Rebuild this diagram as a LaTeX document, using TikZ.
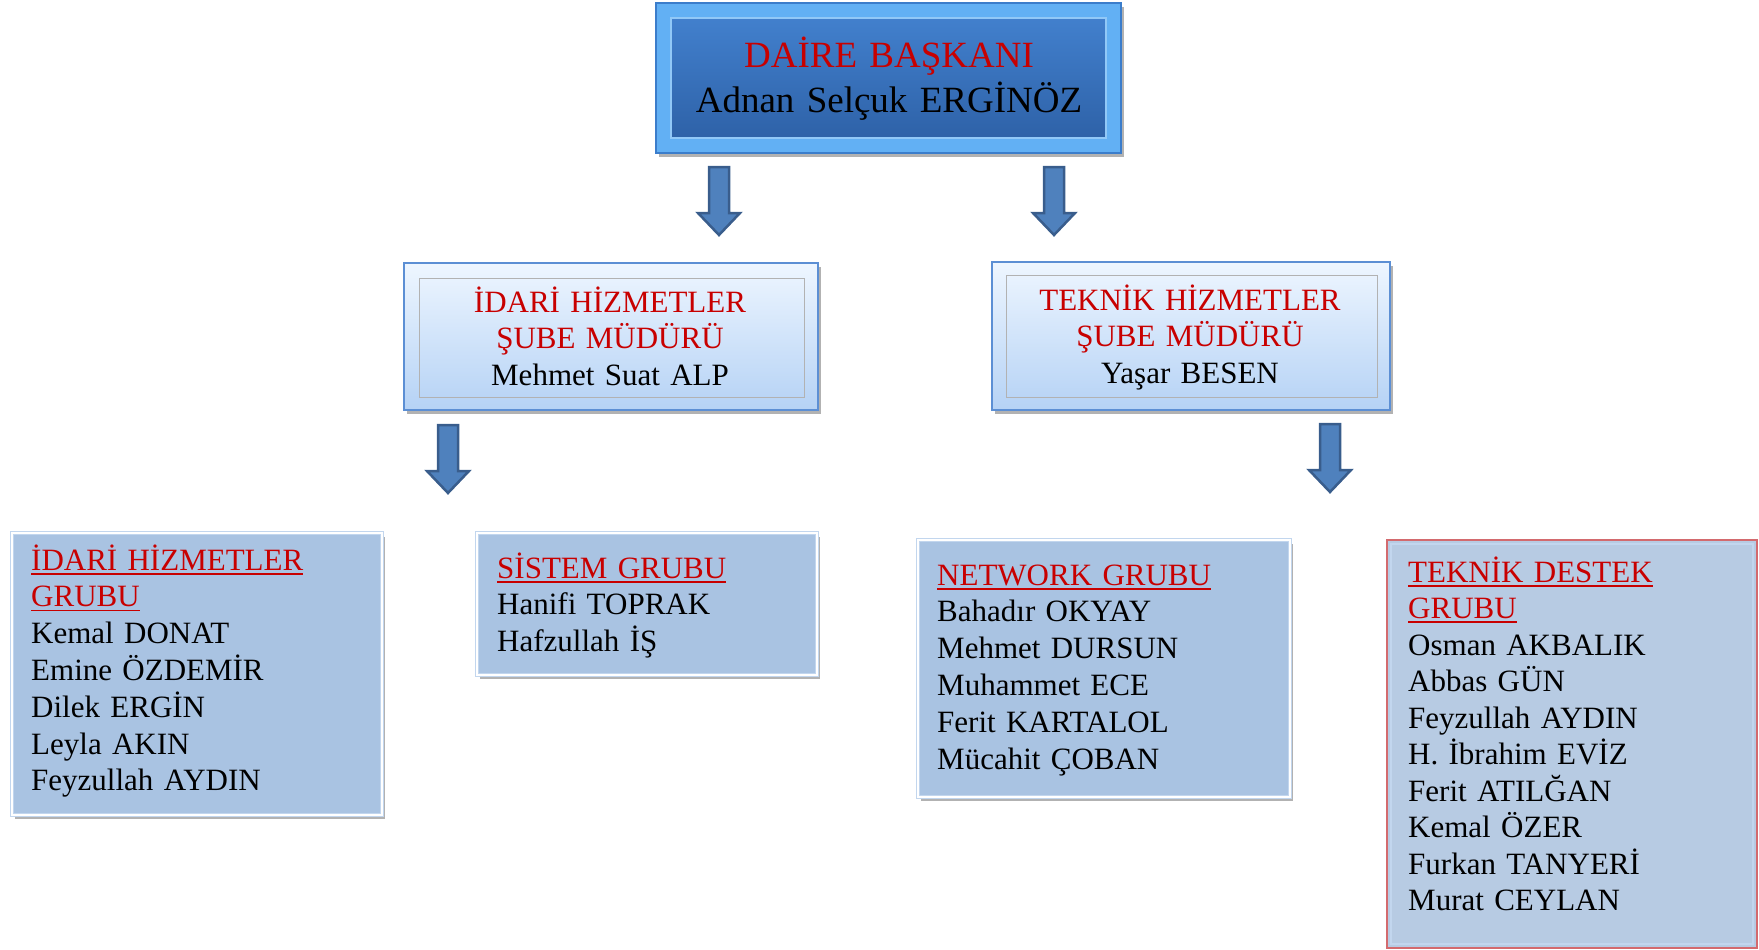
\documentclass[tikz,border=0pt]{standalone}
\usepackage{fontspec}
\setmainfont{Liberation Serif}
\usetikzlibrary{positioning,shadows}

\definecolor{headred}{RGB}{200,0,0}
\definecolor{framelt}{RGB}{98,176,244}
\definecolor{frameln}{RGB}{59,125,203}
\definecolor{chieftop}{RGB}{66,128,205}
\definecolor{chiefbot}{RGB}{46,98,168}
\definecolor{midline}{RGB}{92,143,212}
\definecolor{midtop}{RGB}{238,246,255}
\definecolor{midbot}{RGB}{181,210,245}
\definecolor{grpfill}{RGB}{169,195,226}
\definecolor{grpline}{RGB}{194,214,238}
\definecolor{supfill}{RGB}{183,203,227}
\definecolor{supred}{RGB}{211,106,110}
\definecolor{arrfill}{RGB}{79,129,189}
\definecolor{arrline}{RGB}{57,93,140}

% underlined group heading
\newcommand\grpul[1]{\leavevmode\setbox0=\hbox{#1}\rlap{\rule[-4.5pt]{\wd0}{1.8pt}}\box0}

\begin{document}
\begin{tikzpicture}[
  x=1pt,y=-1pt,
  shd/.style={drop shadow={shadow xshift=3pt,shadow yshift=-4pt,opacity=0.3,fill=black}},
  box/.style={rectangle,inner sep=0pt,outer sep=0pt,anchor=north west},
  chiefbox/.style={box,fill=framelt,draw=frameln,line width=1.5pt,shd},
  chiefin/.style={rectangle,inner sep=0pt,top color=chieftop,bottom color=chiefbot,
                  draw=framelt!70!white,line width=1.5pt},
  midbox/.style={box,top color=midtop,bottom color=midbot,draw=midline,line width=2pt,shd},
  midin/.style={rectangle,inner sep=0pt,draw=gray!60,line width=0.8pt},
  grpbox/.style={box,fill=grpfill,draw=grpline,double=white,double distance=2pt,
                 line width=0.8pt,shd},
  bigtxt/.style={font=\fontsize{37}{44}\selectfont,align=center,text width=440pt,
                 inner sep=0pt,anchor=base},
  midtxt/.style={font=\fontsize{31}{36.5}\selectfont,align=center,text width=380pt,
                 inner sep=0pt,anchor=base},
  grptxt/.style={font=\fontsize{31}{36.8}\selectfont,align=left,text width=340pt,
                 inner sep=0pt,anchor=base west},
  blockarr/.style={fill=arrfill,draw=arrline,line width=2.5pt,line join=miter}]

\useasboundingbox (0,0) rectangle (1759,950);

% head of department
\node[chiefbox,minimum width=465pt,minimum height=150pt] (chief) at (656,3) {};
\node[chiefin,minimum width=435pt,minimum height=120pt] (chiefi) at (chief.center) {};
\node[bigtxt] (chieft) at (889,68) {\textcolor{headred}{DAİRE BAŞKANI}\\Adnan Selçuk ERGİNÖZ};

% branch managers
\node[midbox,minimum width=414pt,minimum height=147pt] (idari) at (404,263) {};
\node[midin,minimum width=385pt,minimum height=119pt,anchor=north west] (idarii) at (419,278) {};
\node[midtxt] (idarit) at (610,312) {\textcolor{headred}{İDARİ HİZMETLER\\ŞUBE MÜDÜRÜ}\\Mehmet Suat ALP};

\node[midbox,minimum width=398pt,minimum height=148pt] (teknik) at (992,262) {};
\node[midin,minimum width=371pt,minimum height=122pt,anchor=north west] (teknikki) at (1006,275) {};
\node[midtxt] (teknikt) at (1190,310) {\textcolor{headred}{TEKNİK HİZMETLER\\ŞUBE MÜDÜRÜ}\\Yaşar BESEN};

% groups
\node[grpbox,minimum width=370pt,minimum height=282pt] (gidari) at (12,533) {};
\node[grptxt] (gidarit) at (31,570) {\color{headred}\grpul{İDARİ HİZMETLER}\\\grpul{GRUBU}\\
  \color{black}Kemal DONAT\\Emine ÖZDEMİR\\Dilek ERGİN\\Leyla AKIN\\Feyzullah AYDIN};

\node[grpbox,minimum width=340pt,minimum height=142pt] (gsistem) at (477,533) {};
\node[grptxt] (gsistemt) at (497,578) {\color{headred}\grpul{SİSTEM GRUBU}\\
  \color{black}Hanifi TOPRAK\\Hafzullah İŞ};

\node[grpbox,minimum width=372pt,minimum height=257pt] (gnet) at (918,540) {};
\node[grptxt] (gnett) at (937,585) {\color{headred}\grpul{NETWORK GRUBU}\\
  \color{black}Bahadır OKYAY\\Mehmet DURSUN\\Muhammet ECE\\Ferit KARTALOL\\Mücahit ÇOBAN};

\node[box,fill=supfill,draw=supred,line width=1.2pt,minimum width=370pt,
  minimum height=408pt] (gdestek) at (1387,540) {};
\node[midin,draw=grpline,line width=1.5pt,minimum width=362pt,minimum height=400pt]
  (gdesteki) at (gdestek.center) {};
\node[grptxt,font=\fontsize{31}{36.5}\selectfont] (gdestekt) at (1408,582)
  {\color{headred}\grpul{TEKNİK DESTEK}\\\grpul{GRUBU}\\
  \color{black}Osman AKBALIK\\Abbas GÜN\\Feyzullah AYDIN\\H. İbrahim EVİZ\\
  Ferit ATILĞAN\\Kemal ÖZER\\Furkan TANYERİ\\Murat CEYLAN};

% block arrows
\foreach \ax/\ay in {719/167,1054/167,448/425,1330/424}
  \draw[blockarr] (\ax-10,\ay) -- (\ax+10,\ay) -- (\ax+10,\ay+46) -- (\ax+21,\ay+46)
    -- (\ax,\ay+68) -- (\ax-21,\ay+46) -- (\ax-10,\ay+46) -- cycle;
\end{tikzpicture}
\end{document}
